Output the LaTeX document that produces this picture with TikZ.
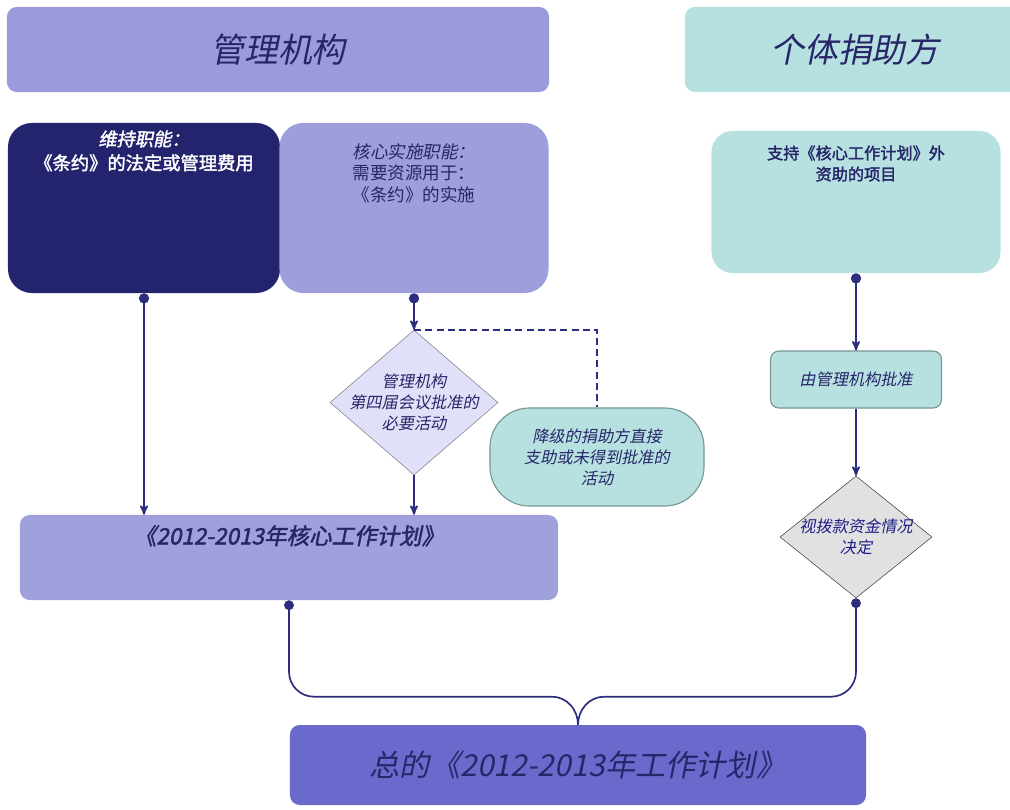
\documentclass[tikz,border=0pt]{standalone}
\usepackage{fontspec}
\setmainfont{Noto Sans CJK SC}[AutoFakeSlant=0.2,AutoFakeBold=2]
\usepackage{tikz}
\usetikzlibrary{positioning,shapes,calc,arrows}
\definecolor{myslate}{RGB}{155,155,219}
\definecolor{myteal}{RGB}{183,224,224}
\definecolor{mynavy}{RGB}{35,35,110}
\definecolor{mylav}{RGB}{158,158,220}
\definecolor{mydiamond}{RGB}{224,224,248}
\definecolor{mygrey}{RGB}{130,130,140}
\definecolor{mycore}{RGB}{160,160,220}
\definecolor{mygray}{RGB}{225,225,225}
\definecolor{mydark}{RGB}{70,70,70}
\definecolor{myfinal}{RGB}{106,106,204}
\definecolor{mytext}{RGB}{38,38,105}
\definecolor{mylink}{RGB}{45,45,125}
\definecolor{mypillline}{RGB}{120,150,150}
\tikzset{
  basic/.style    = {align=center, text=mytext, font=\fontsize{11.5}{15}\selectfont},
  header/.style   = {basic, rounded corners=7pt, minimum height=2.125cm,
                     font=\fontsize{24}{28}\selectfont\itshape},
  fnbox/.style    = {basic, rounded corners=17pt, minimum height=4.25cm},
  boxlabel/.style = {basic, anchor=north},
  decision/.style = {diamond, draw, thin, inner sep=0pt},
  decisiontext/.style = {basic, font=\fontsize{11.5}{15}\selectfont\itshape},
  pill/.style     = {basic, draw=mypillline, thick, fill=myteal, rounded corners=28pt,
                     font=\fontsize{11.5}{15}\selectfont\itshape},
  approvebox/.style = {basic, draw=mypillline, thick, fill=myteal, rounded corners=6pt,
                     font=\fontsize{11.5}{15}\selectfont\itshape},
  planbox/.style  = {basic, rounded corners=7pt},
  link/.style     = {->, >=stealth', line width=1.3pt, draw=mylink},
  dotlink/.style  = {*->, >=stealth', line width=1.3pt, draw=mylink},
  dashlink/.style = {line width=1.3pt, draw=mylink, dash pattern=on 5pt off 3pt},
  bracelink/.style = {*-, line width=1.2pt, draw=mylink}
}

\begin{document}
\begin{tikzpicture}[x=0.025cm,y=-0.025cm]
  \clip (0,0) rectangle (1010,809);
  % column headers
  \node[header, fill=myslate, minimum width=13.55cm] (gov) at (278,49.5) {管理机构};
  \node[header, fill=myteal, minimum width=8.5cm] (donors) at (855,49.5) {个体捐助方};

  % functions
  \node[fnbox, fill=mynavy, minimum width=6.8cm,
        label={[boxlabel, yshift=-2pt, text=white, font=\fontsize{13}{17}\selectfont\bfseries]north:{\itshape 维持职能：\\《条约》的法定或管理费用}}]
        (maint) at (144,208) {};
  \node[fnbox, fill=mylav, minimum width=6.725cm,
        label={[boxlabel, yshift=-11pt, font=\fontsize{12.5}{15.5}\selectfont]north:{\itshape 核心实施职能：\\需要资源用于：\\《条约》的实施}}]
        (impl) at (414,208) {};
  \node[fnbox, fill=myteal, minimum width=7.225cm, minimum height=3.55cm, rounded corners=15pt,
        label={[boxlabel, yshift=-7pt, font=\fontsize{11.5}{15}\selectfont\bfseries]north:{支持《核心工作计划》外\\资助的项目}}]
        (extra) at (856,202) {};

  % decisions and side boxes
  \node[decision, fill=mydiamond, draw=mygrey, minimum width=4.2cm, minimum height=3.625cm,
        label={[decisiontext]center:管理机构\\第四届会议批准的\\必要活动}] (need) at (414,402.5) {};
  \node[pill, minimum width=5.35cm, minimum height=2.45cm] (demoted) at (597,457)
        {降级的捐助方直接\\支助或未得到批准的\\活动};
  \node[approvebox, minimum width=4.275cm, minimum height=1.425cm] (approve) at (856,379.5) {由管理机构批准};
  \node[decision, fill=mygray, draw=mydark, minimum width=3.8cm, minimum height=3.05cm,
        label={[decisiontext, text=mytext!80!blue]center:视拨款资金情况\\决定}] (funds) at (856,537) {};

  % work plans
  \node[planbox, fill=mycore, minimum width=13.45cm, minimum height=2.125cm,
        label={[boxlabel, yshift=-4pt, font=\fontsize{16}{19}\selectfont\bfseries\itshape]north:《2012-2013年核心工作计划》}]
        (core) at (289,557.5) {};
  \node[planbox, fill=myfinal, minimum width=14.4cm, minimum height=2cm,
        font=\fontsize{21.5}{25}\selectfont\itshape] (total) at (578,765) {总的《2012-2013年工作计划》};

  % connectors
  \draw[dotlink] (maint.south) -- (maint.south |- core.north);
  \draw[dotlink] (impl.south) -- (need.north);
  \draw[link] (need.south) -- (need.south |- core.north);
  \draw[dashlink] (need.north) -| (demoted.north);
  \draw[dotlink] (extra.south) -- (approve.north);
  \draw[link] (approve.south) -- (funds.north);
  \draw[bracelink] (core.south) -- ($(core.south |- total.north)+(0,-53)$)
        to[out=-90,in=180] ($(core.south |- total.north)+(25,-28)$)
        -- ($(total.north)+(-26,-28)$) to[out=0,in=90] (total.north);
  \draw[bracelink] (funds.south) -- ($(funds.south |- total.north)+(0,-53)$)
        to[out=-90,in=0] ($(funds.south |- total.north)+(-25,-28)$)
        -- ($(total.north)+(26,-28)$) to[out=180,in=90] (total.north);
\end{tikzpicture}
\end{document}
